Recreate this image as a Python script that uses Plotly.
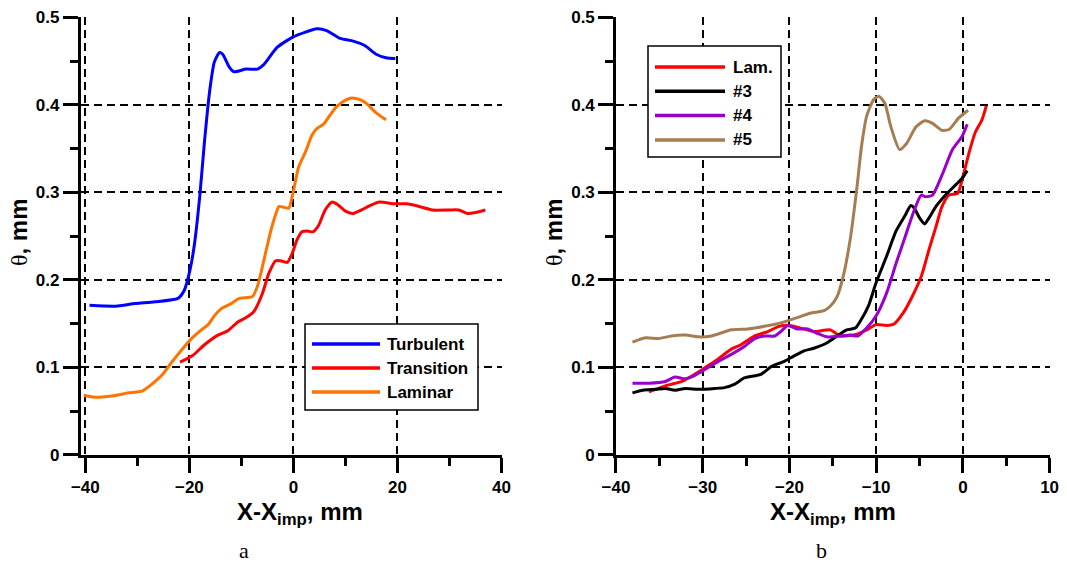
import plotly.graph_objects as go

# ---------- Panel a data ----------
turb_x = [-39.2, -34.2, -30.4, -26.6, -22.2, -21.0, -19.9, -19.0, -18.0, -17.1, -16.1, -15.2, -14.2, -13.6,
          -12.3, -11.4, -9.1, -6.9, -5.7, -3.1, 0.06, 4.5, 6.4, 9.0, 11.5, 13.7, 15.9, 17.8, 19.6]
turb_y = [0.171, 0.170, 0.173, 0.175, 0.179, 0.188, 0.211, 0.242, 0.296, 0.358, 0.416, 0.449, 0.460, 0.458,
          0.443, 0.438, 0.441, 0.441, 0.446, 0.466, 0.478, 0.487, 0.485, 0.476, 0.473, 0.468, 0.458, 0.454, 0.453]

trans_x = [-21.8, -19.3, -17.1, -14.5, -12.6, -10.7, -9.1, -7.6, -6.0, -4.7, -3.4, -2.5, -1.2, -0.25, 0.7, 1.65,
           2.6, 3.75, 4.8, 6.1, 7.4, 8.3, 10.2, 11.5, 13.1, 14.7, 16.6, 19.1, 21.7, 24.2, 26.7, 29.9, 31.8,
           33.4, 35.0, 36.9]
trans_y = [0.106, 0.114, 0.126, 0.137, 0.142, 0.152, 0.157, 0.164, 0.184, 0.208, 0.222, 0.222, 0.220, 0.230,
           0.246, 0.255, 0.256, 0.255, 0.262, 0.280, 0.289, 0.287, 0.278, 0.276, 0.280, 0.285, 0.289, 0.287,
           0.287, 0.284, 0.280, 0.280, 0.280, 0.276, 0.277, 0.280]

lam_x = [-40.3, -38.0, -34.2, -31.7, -29.1, -27.2, -25.3, -23.4, -21.5, -19.6, -17.7, -16.4, -15.2, -13.9,
         -12.0, -10.4, -8.8, -7.9, -6.9, -5.7, -4.4, -3.4, -2.8, -1.8, -0.9, -0.06, 1.0, 2.3, 3.6, 4.5, 5.8,
         7.0, 8.3, 10.2, 11.2, 12.8, 14.0, 15.9, 17.8]
lam_y = [0.068, 0.066, 0.068, 0.071, 0.073, 0.081, 0.091, 0.106, 0.120, 0.133, 0.143, 0.149, 0.159, 0.167,
         0.173, 0.179, 0.180, 0.181, 0.193, 0.222, 0.255, 0.275, 0.284, 0.283, 0.282, 0.300, 0.329, 0.346,
         0.366, 0.373, 0.378, 0.388, 0.398, 0.406, 0.408, 0.406, 0.402, 0.391, 0.383]

# ---------- Panel b data ----------
blam_x = [-36.2, -34.3, -32.4, -31.3, -30.0, -28.6, -26.7, -25.6, -24.0, -22.5, -21.2, -20.0, -18.7, -17.2,
          -15.3, -14.1, -12.2, -11.1, -10.0, -8.8, -7.9, -6.9, -6.0, -4.8, -3.9, -3.1, -2.4, -1.6, -0.6, -0.1,
          0.7, 1.4, 2.2, 2.7]
blam_y = [0.072, 0.079, 0.084, 0.090, 0.098, 0.107, 0.121, 0.126, 0.136, 0.141, 0.147, 0.148, 0.145, 0.141,
          0.143, 0.136, 0.138, 0.143, 0.149, 0.148, 0.150, 0.162, 0.178, 0.204, 0.235, 0.261, 0.284, 0.297,
          0.299, 0.314, 0.345, 0.368, 0.383, 0.399]

n3_x = [-38.1, -36.9, -35.4, -34.3, -33.2, -32.0, -30.5, -28.6, -27.5, -26.3, -25.2, -23.3, -22.1, -20.6,
        -19.5, -18.3, -17.2, -15.7, -14.5, -13.4, -12.4, -11.7, -10.9, -10.0, -8.8, -7.7, -6.7, -6.0, -5.6,
        -5.0, -4.4, -3.9, -3.1, -2.0, -0.8, -0.1, 0.5]
n3_y = [0.071, 0.074, 0.075, 0.076, 0.074, 0.076, 0.075, 0.076, 0.077, 0.081, 0.088, 0.092, 0.101, 0.107,
        0.113, 0.119, 0.122, 0.128, 0.136, 0.143, 0.145, 0.155, 0.170, 0.197, 0.227, 0.256, 0.273, 0.285,
        0.282, 0.271, 0.264, 0.271, 0.284, 0.297, 0.309, 0.316, 0.325]

n4_x = [-38.1, -36.2, -34.3, -33.2, -32.0, -30.9, -29.7, -28.2, -26.7, -25.2, -24.0, -22.9, -21.7, -21.0,
        -20.2, -19.1, -17.9, -16.8, -15.7, -14.1, -13.0, -12.1, -11.1, -10.0, -8.8, -7.7, -6.5, -5.6, -4.8,
        -4.3, -3.5, -2.4, -1.2, -0.1, 0.5]
n4_y = [0.082, 0.082, 0.084, 0.089, 0.087, 0.091, 0.098, 0.107, 0.115, 0.124, 0.133, 0.136, 0.136, 0.141,
        0.148, 0.144, 0.144, 0.139, 0.135, 0.136, 0.137, 0.136, 0.145, 0.159, 0.185, 0.219, 0.254, 0.280,
        0.297, 0.295, 0.297, 0.320, 0.349, 0.364, 0.378]

n5_x = [-38.1, -36.6, -35.1, -33.6, -32.0, -30.5, -29.0, -26.7, -24.8, -22.9, -21.0, -19.1, -17.6, -16.0,
        -15.3, -14.5, -13.8, -13.0, -12.2, -11.7, -11.1, -10.3, -9.7, -9.0, -8.3, -7.3, -6.5, -5.4, -4.4,
        -3.5, -2.4, -1.6, -0.5, 0.6]
n5_y = [0.129, 0.134, 0.133, 0.136, 0.137, 0.135, 0.136, 0.143, 0.144, 0.147, 0.151, 0.157, 0.162, 0.165,
        0.170, 0.181, 0.204, 0.246, 0.307, 0.352, 0.387, 0.406, 0.410, 0.402, 0.375, 0.349, 0.356, 0.375,
        0.382, 0.379, 0.371, 0.372, 0.385, 0.394]

y_ticks = [0, 0.1, 0.2, 0.3, 0.4, 0.5]
y_labels = ["0", "0.1", "0.2", "0.3", "0.4", "0.5"]

names_a = ["Turbulent", "Transition", "Laminar"]
colors_a = ["#0000FF", "#FF0000", "#FF7300"]
names_b = ["Lam.", "#3", "#4", "#5"]
colors_b = ["#FF0000", "#000000", "#9900CC", "#A67C52"]

FONT = "Liberation Sans"
W, H = 1067, 569
TICKC = "black"

fig = go.Figure()

def add(x, y, name, color, xa, ya):
    fig.add_trace(go.Scatter(x=x, y=y, name=name, mode="lines",
                             line=dict(color=color, width=3, shape="spline", smoothing=0.6),
                             xaxis=xa, yaxis=ya, showlegend=False))

for (x, y), n, c in zip([(turb_x, turb_y), (trans_x, trans_y), (lam_x, lam_y)], names_a, colors_a):
    add(x, y, n, c, "x", "y")
for (x, y), n, c in zip([(blam_x, blam_y), (n3_x, n3_y), (n4_x, n4_y), (n5_x, n5_y)], names_b, colors_b):
    add(x, y, n, c, "x2", "y2")

tickfont = dict(family=FONT, size=17, color="black", weight="bold")

def xaxis(domain, rng, dtick, minor, anchor):
    return dict(domain=domain, range=rng, anchor=anchor, tick0=0, dtick=dtick, automargin=False,
                showline=True, linecolor="black", linewidth=2.5,
                ticks="outside", ticklen=15, tickwidth=2.5, tickcolor=TICKC,
                minor=dict(dtick=minor, tick0=0, ticks="outside", ticklen=8, tickwidth=2.5,
                           tickcolor=TICKC, showgrid=False),
                showgrid=True, gridcolor="black", gridwidth=1.5, griddash="8px,5px",
                zeroline=False, tickfont=tickfont, fixedrange=True)

def yaxis(domain, anchor):
    return dict(domain=domain, range=[0, 0.5005], anchor=anchor, automargin=False,
                tickvals=y_ticks, ticktext=y_labels,
                showline=True, linecolor="black", linewidth=2.5,
                ticks="outside", ticklen=15, tickwidth=2.5, tickcolor=TICKC,
                minor=dict(tickvals=[0.05, 0.15, 0.25, 0.35, 0.45], ticks="outside", ticklen=8,
                           tickwidth=2.5, tickcolor=TICKC, showgrid=False),
                showgrid=True, gridcolor="black", gridwidth=1.5, griddash="8px,5px",
                zeroline=False, tickfont=tickfont, fixedrange=True)

ydom = [0.2004, 0.9701]

fig.update_layout(
    template="none",
    width=W, height=H,
    margin=dict(l=0, r=0, t=0, b=0, autoexpand=False),
    paper_bgcolor="white", plot_bgcolor="white",
    xaxis=xaxis([0.0756, 0.4705], [-40.9, 40.1], 20, 10, "y"),
    yaxis=yaxis(ydom, "x"),
    xaxis2=xaxis([0.5773, 0.9841], [-40, 10.05], 10, 5, "y2"),
    yaxis2=yaxis(ydom, "x2"),
    showlegend=False,
)

# ---------- legends (drawn as boxes, sample lines and labels) ----------
shapes = []
anns = []
legfont = dict(family=FONT, size=17, color="black", weight="bold")

def legend(box, line_x, text_x, row0, step, names, colors):
    x0, y0, x1, y1 = box
    shapes.append(dict(type="rect", xref="paper", yref="paper", x0=x0 / W, x1=x1 / W,
                       y0=1 - y1 / H, y1=1 - y0 / H, line=dict(color="black", width=1.5),
                       fillcolor="white", layer="above"))
    for i, (n, c) in enumerate(zip(names, colors)):
        yy = 1 - (row0 + i * step) / H
        shapes.append(dict(type="line", xref="paper", yref="paper", x0=line_x[0] / W, x1=line_x[1] / W,
                           y0=yy, y1=yy, line=dict(color=c, width=3.5), layer="above"))
        anns.append(dict(x=text_x / W, y=yy, text=n, font=legfont, xanchor="left", yanchor="middle",
                         xref="paper", yref="paper", showarrow=False))

legend((305, 324, 478, 410), (312, 380), 385, 344, 24, names_a, colors_a)
legend((648, 46, 781, 157), (655, 725), 731, 67, 24.3, names_b, colors_b)

title_font = dict(family=FONT, size=24, color="black", weight="bold")
ytitle = "<span style=\"font-family:'Liberation Serif';font-weight:normal\">θ</span>, mm"
xtitle = "X-X<sub>imp</sub>, mm"
for a in [
    dict(x=300 / W, y=1 - 513 / H, text=xtitle, font=title_font),
    dict(x=833 / W, y=1 - 513 / H, text=xtitle, font=title_font),
    dict(x=19 / W, y=1 - 232 / H, text=ytitle, font=title_font, textangle=-90),
    dict(x=554 / W, y=1 - 232 / H, text=ytitle, font=title_font, textangle=-90),
    dict(x=244 / W, y=1 - 550 / H, text="a", font=dict(family="Liberation Serif", size=22, color="black")),
    dict(x=821 / W, y=1 - 550 / H, text="b", font=dict(family="Liberation Serif", size=22, color="black")),
]:
    a.update(xref="paper", yref="paper", showarrow=False, xanchor="center", yanchor="middle")
    anns.append(a)

fig.update_layout(shapes=shapes, annotations=anns)

fig.write_html("out.html", config={"displayModeBar": False},
               post_script="document.body.style.margin='0';document.body.style.overflow='hidden';")
